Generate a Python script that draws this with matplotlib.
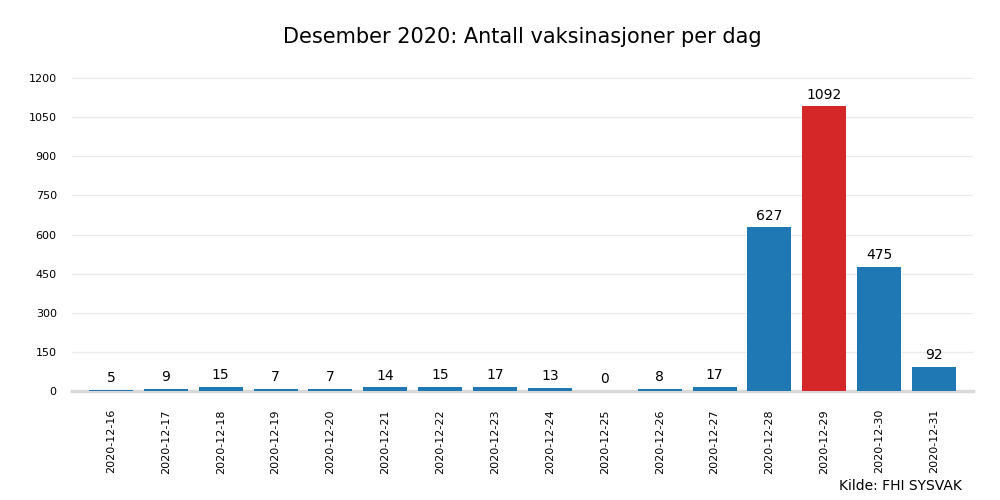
import matplotlib
matplotlib.use("Agg")
import matplotlib.pyplot as plt

dates = ["2020-12-16", "2020-12-17", "2020-12-18", "2020-12-19", "2020-12-20",
         "2020-12-21", "2020-12-22", "2020-12-23", "2020-12-24", "2020-12-25",
         "2020-12-26", "2020-12-27", "2020-12-28", "2020-12-29", "2020-12-30",
         "2020-12-31"]
doses = [5, 9, 15, 7, 7, 14, 15, 17, 13, 0, 8, 17, 627, 1092, 475, 92]
yticks = [0, 150, 300, 450, 600, 750, 900, 1050, 1200]

blue = "#1f77b4"
red = "#d62728"
colors = [red if v == max(doses) else blue for v in doses]

fig = plt.figure(figsize=(10, 5), dpi=100)
ax = fig.add_axes([0.072, 0.218, 0.901, 0.652])

x = range(len(dates))
bars = ax.bar(x, doses, width=0.8, color=colors, zorder=3)
for xi, v in zip(x, doses):
    ax.text(xi, v + 18, str(v), ha="center", va="bottom", fontsize=10)

ax.set_xticks(list(x))
ax.set_xticklabels(dates, rotation=90, fontsize=8)
ax.set_yticks(yticks)
ax.set_yticklabels([str(t) for t in yticks], fontsize=8)
ax.set_xlim(-0.71, len(dates) - 0.29)
ax.set_ylim(0, 1250)
ax.grid(axis="y", color="#ebebeb", linewidth=1, zorder=0)
ax.tick_params(length=0, pad=13)
ax.tick_params(axis="y", pad=11)
for s in ["top", "right", "left"]:
    ax.spines[s].set_visible(False)
ax.spines["bottom"].set_color("#d9d9d9")
ax.spines["bottom"].set_linewidth(2.5)

ax.set_title("Desember 2020: Antall vaksinasjoner per dag", fontsize=15, pad=16)
fig.text(0.962, 0.015, "Kilde: FHI SYSVAK", ha="right", va="bottom", fontsize=10)

fig.savefig("out.png")
